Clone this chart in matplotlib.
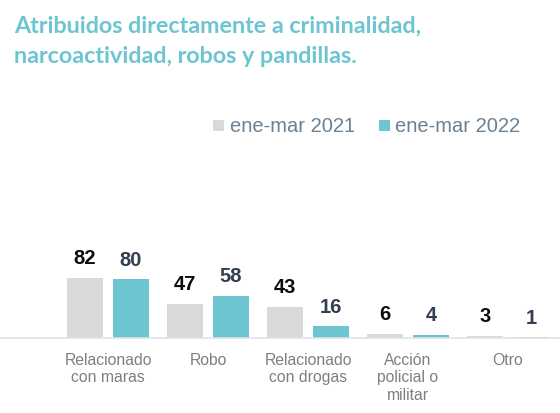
import matplotlib
matplotlib.use("Agg")
import matplotlib.pyplot as plt
from matplotlib.patches import Rectangle
import numpy as np

categories = ["Relacionado\ncon maras", "Robo", "Relacionado\ncon drogas", "Acción\npolicial o\nmilitar", "Otro"]
series_names = ["ene-mar 2021", "ene-mar 2022"]
vals_2021 = [82, 47, 43, 6, 3]
vals_2022 = [80, 58, 16, 4, 1]
title_lines = ["Atribuidos directamente a criminalidad,", "narcoactividad, robos y pandillas."]

c_2021 = "#d9d9d9"
c_2022 = "#6cc5d1"
lab_2021 = "#0d0d0d"
lab_2022 = "#333f50"
tick_col = "#7f7f7f"
legend_col = "#6b8193"
title_col = "#6cc5d1"

W, H = 560, 414
fig = plt.figure(figsize=(W / 100, H / 100), dpi=100)
base_px = 339  # baseline from top
ax_h_px = 200
ax = fig.add_axes([0, (H - base_px) / H, 1, ax_h_px / H])
ymax = ax_h_px / (60 / 82)
ax.set_ylim(0, ymax)
ax.set_xlim(-1.08, 4.52)

x = np.arange(len(categories))
bw = 0.36
off = 0.23
ax.bar(x - off, vals_2021, bw, color=c_2021, zorder=2)
ax.bar(x + off, vals_2022, bw, color=c_2022, zorder=2)

font = "Liberation Sans"
for xi, v in zip(x - off, vals_2021):
    ax.annotate(str(v), (xi, v), xytext=(0, 10.5), textcoords="offset points",
                ha="center", va="baseline", fontsize=14.5, fontweight="bold",
                color=lab_2021, family=font)
for xi, v in zip(x + off, vals_2022):
    ax.annotate(str(v), (xi, v), xytext=(0, 10.5), textcoords="offset points",
                ha="center", va="baseline", fontsize=14.5, fontweight="bold",
                color=lab_2022, family=font)

for s in ["top", "right", "left"]:
    ax.spines[s].set_visible(False)
ax.spines["bottom"].set_color("#dde3e8")
ax.spines["bottom"].set_linewidth(1.2)
ax.set_yticks([])
ax.set_xticks(x)
ax.set_xticklabels(categories, fontsize=11.3, color=tick_col, family=font, linespacing=1.2)
ax.tick_params(axis="x", length=0, pad=10)
ax.patch.set_alpha(0)

# title
for line, by in zip(title_lines, [33, 63]):
    fig.text(14 / W, 1 - by / H, line, fontsize=16.8, fontweight="bold", color=title_col,
             family="Lato", va="baseline", ha="left")

# legend
sq = 11
for (lx, tx, name, col) in [(213, 230, series_names[0], c_2021), (379, 395, series_names[1], c_2022)]:
    fig.patches.append(Rectangle((lx / W, 1 - 132 / H), sq / W, sq / H, transform=fig.transFigure,
                                 facecolor=col, edgecolor="none"))
    fig.text(tx / W, 1 - 126 / H, name, fontsize=14.5, color=legend_col, family=font,
             va="center", ha="left")

fig.savefig("out.png", dpi=100)
